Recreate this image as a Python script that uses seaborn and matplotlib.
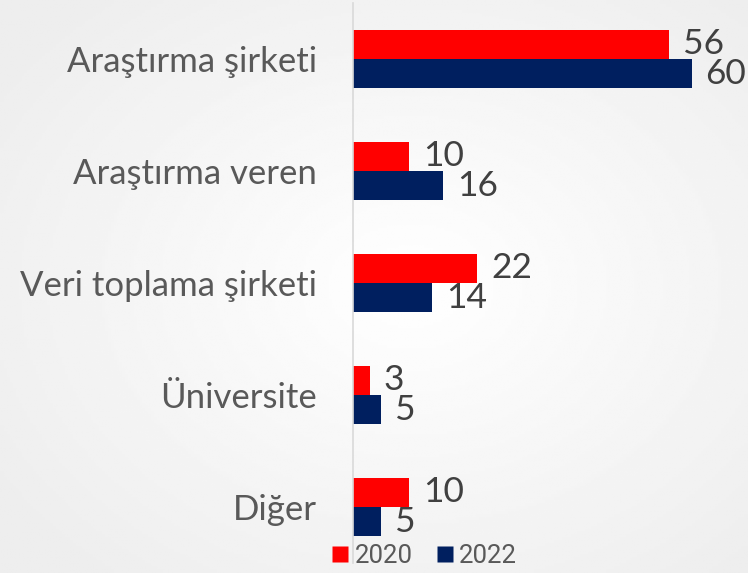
import matplotlib
matplotlib.use("Agg")
import matplotlib.pyplot as plt
from matplotlib.lines import Line2D
import seaborn as sns
import pandas as pd
import numpy as np

# chart data
categories = ["Araştırma şirketi", "Araştırma veren", "Veri toplama şirketi", "Üniversite", "Diğer"]
years = ["2020", "2022"]
values_2020 = [56, 10, 22, 3, 10]
values_2022 = [60, 16, 14, 5, 5]
colors = {"2020": "#ff0000", "2022": "#001f5f"}

df = pd.DataFrame({
    "category": categories * 2,
    "year": ["2020"] * len(categories) + ["2022"] * len(categories),
    "value": values_2020 + values_2022,
})

sns.set_theme(style="white")
plt.rcParams["font.family"] = ["Lato", "DejaVu Sans"]

fig = plt.figure(figsize=(7.48, 5.73), dpi=100)

# soft radial background like the slide
bg = fig.add_axes([0, 0, 1, 1], zorder=-10)
yy, xx = np.mgrid[0:1:200j, 0:1:260j]
r = np.sqrt(((xx - 0.55) / 0.9) ** 2 + ((yy - 0.5) / 0.9) ** 2)
shade = 1.0 - 0.07 * np.clip(r / 0.75, 0, 1)
bg.imshow(shade, cmap="gray", vmin=0, vmax=1, aspect="auto", extent=[0, 1, 0, 1])
bg.axis("off")

ax = fig.add_axes([353 / 748, 10 / 573, 1 - 353 / 748, 560 / 573])
ax.set_facecolor("none")

sns.barplot(data=df, y="category", x="value", hue="year", order=categories,
            hue_order=years, palette=colors, orient="h", width=0.52, gap=0,
            saturation=1, edgecolor="none", ax=ax, legend=False)

for cont in ax.containers:
    ax.bar_label(cont, fontsize=25.5, color="#404040", padding=10)

ax.set_xlim(0, 70)
ax.set_ylim(4.5, -0.5)
ax.set_xlabel("")
ax.set_ylabel("")
ax.set_xticks([])
ax.tick_params(axis="y", length=0, pad=26, labelsize=25, labelcolor="#595959")
for side in ["top", "right", "bottom"]:
    ax.spines[side].set_visible(False)
ax.spines["left"].set_color("#d9d9d9")
ax.spines["left"].set_linewidth(1.2)

handles = [Line2D([], [], marker="s", linestyle="none", markersize=11,
                  markerfacecolor=colors[y], markeredgecolor="none") for y in years]
leg = fig.legend(handles, years, loc="center", bbox_to_anchor=(424 / 748, 1 - 556 / 573),
                 ncol=2, frameon=False, fontsize=18.5, handletextpad=0.2,
                 columnspacing=0.9, handlelength=0.7, borderaxespad=0)
for t in leg.get_texts():
    t.set_color("#595959")
    t.set_family(["Roboto", "DejaVu Sans"])

fig.savefig("out.png", dpi=100)
